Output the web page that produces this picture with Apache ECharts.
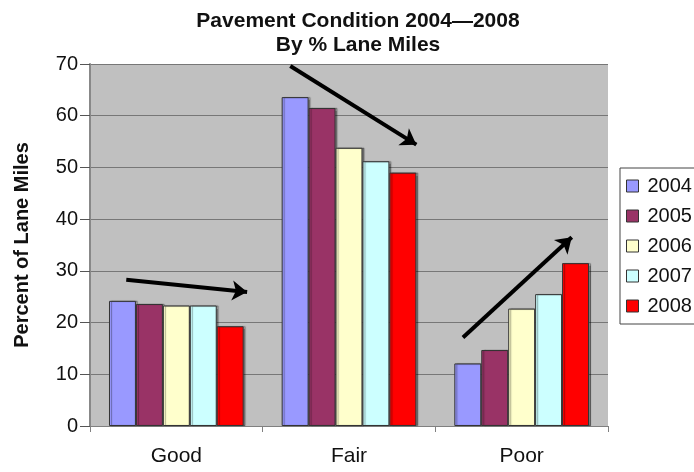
<!DOCTYPE html>
<html>
<head>
<meta charset="utf-8">
<script src="https://cdn.jsdelivr.net/npm/echarts@6/dist/echarts.min.js"></script>
<style>
  html, body { margin: 0; padding: 0; background: #fff; }
  #main { width: 694px; height: 472px; }
</style>
</head>
<body>
<div id="main"></div>
<script>
var categorias = ['Good', 'Fair', 'Poor'];
var anios = ['2004', '2005', '2006', '2007', '2008'];
var colores = ['#9999ff', '#993366', '#ffffcc', '#ccffff', '#ff0000'];
var v2004 = [24.2, 63.6, 12.1];
var v2005 = [23.6, 61.5, 14.7];
var v2006 = [23.3, 53.8, 22.7];
var v2007 = [23.3, 51.2, 25.5];
var v2008 = [19.3, 49.0, 31.5];
var valores = [v2004, v2005, v2006, v2007, v2008];
// flechas de tendencia: [x inicio, y inicio, x fin, y fin] (x en unidades de categoria 0..3)
var flechas = [
     [0.21, 28.3, 0.91, 25.9],
     [1.16, 69.6, 1.89, 54.4],
     [2.16, 17.1, 2.79, 36.5]
];

var chart = echarts.init(document.getElementById('main'));

var series = anios.map(function (a, i) {
     return {
          name: a,
          type: 'bar',
          barGap: '0%',
          barCategoryGap: '22%',
          data: valores[i],
          itemStyle: {
               color: colores[i],
               borderColor: '#333',
               borderWidth: 1,
               shadowColor: 'rgba(0,0,0,0.35)',
               shadowOffsetX: 2,
               shadowOffsetY: 0,
               shadowBlur: 1
          }
     };
});

series.push({
     type: 'lines',
     coordinateSystem: 'cartesian2d',
     xAxisIndex: 1,
     yAxisIndex: 0,
     symbol: ['none', 'arrow'],
     symbolSize: 15,
     silent: true,
     z: 10,
     lineStyle: { color: '#000', width: 4, opacity: 1 },
     data: flechas.map(function (f) {
          return { coords: [[f[0], f[1]], [f[2], f[3]]] };
     })
});

chart.setOption({
     animation: false,
     title: {
          text: 'Pavement Condition 2004\u20142008\nBy % Lane Miles',
          left: 353,
          textAlign: 'center',
          top: 4,
          textStyle: {
               fontFamily: 'Liberation Sans',
               fontWeight: 'bold',
               fontSize: 21,
               lineHeight: 24,
               color: '#111'
          }
     },
     legend: {
          data: anios,
          orient: 'vertical',
          left: 620,
          top: 168,
          padding: [8, 40, 8, 6],
          itemGap: 10,
          itemWidth: 12,
          itemHeight: 12,
          icon: 'rect',
          borderColor: '#444',
          borderWidth: 1,
          itemStyle: { borderColor: '#333', borderWidth: 1, shadowBlur: 0, shadowOffsetX: 0 },
          textStyle: {
               fontFamily: 'Liberation Sans',
               fontSize: 20,
               color: '#111',
               padding: [0, 0, 0, 4]
          }
     },
     grid: {
          left: 90,
          right: 86,
          top: 64,
          bottom: 46,
          show: true,
          backgroundColor: '#c0c0c0',
          borderWidth: 0
     },
     xAxis: [{
          type: 'category',
          data: categorias,
          axisLine: { lineStyle: { color: '#808080', width: 1 } },
          axisTick: { show: true, length: 6, inside: false, lineStyle: { color: '#808080' } },
          axisLabel: {
               margin: 20,
               fontFamily: 'Liberation Sans',
               fontSize: 21,
               color: '#111'
          }
     }, {
          type: 'value',
          min: 0,
          max: 3,
          show: false
     }],
     yAxis: [{
          type: 'value',
          min: 0,
          max: 70,
          interval: 10,
          name: 'Percent of Lane Miles',
          nameLocation: 'middle',
          nameGap: 58,
          nameTextStyle: {
               fontFamily: 'Liberation Sans',
               fontWeight: 'bold',
               fontSize: 20,
               color: '#111'
          },
          axisLine: { show: true, lineStyle: { color: '#888', width: 2 } },
          axisTick: { show: true, length: 10, lineStyle: { color: '#555' } },
          axisLabel: {
               margin: 12,
               fontFamily: 'Liberation Sans',
               fontSize: 20,
               color: '#111'
          },
          splitLine: { show: true, lineStyle: { color: '#777', width: 1 } }
     }],
     series: series
});
</script>
</body>
</html>
